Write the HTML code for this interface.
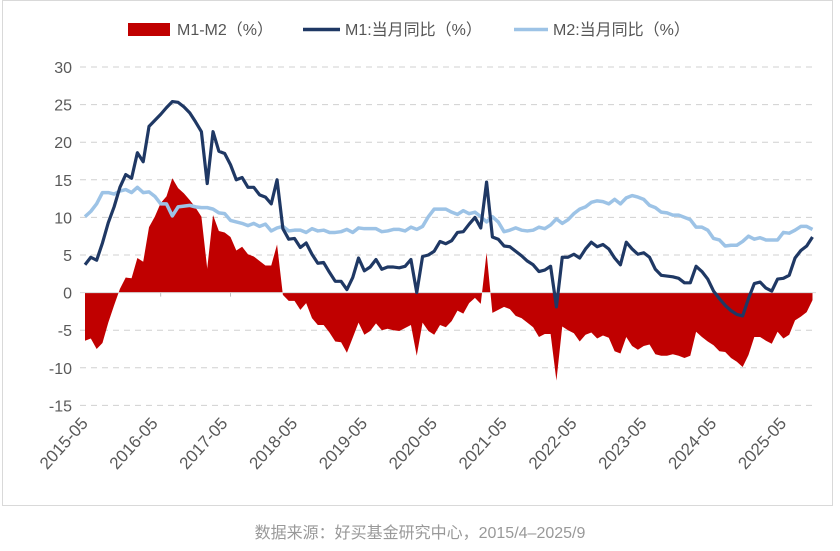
<!DOCTYPE html>
<html><head><meta charset="utf-8">
<style>
html,body{margin:0;padding:0;background:#fff;}
body{width:840px;height:546px;overflow:hidden;font-family:"Liberation Sans","Noto Sans CJK SC",sans-serif;}
</style></head>
<body>
<svg id="chart" width="840" height="546" viewBox="0 0 840 546" xmlns="http://www.w3.org/2000/svg" font-family="Liberation Sans, Noto Sans CJK SC, sans-serif">
  <rect x="2.5" y="0.5" width="830" height="505" fill="#fff" stroke="#d9d9d9"/>
  <g id="grid"></g>
  <g id="yaxis"></g>
  <g id="xaxis"></g>
  <g id="series"></g>
  <g font-size="16" fill="#555">
    <rect x="128" y="23" width="42" height="13" fill="#C00000"/>
    <text x="177" y="35">M1-M2（%）</text>
    <line x1="303" y1="29.5" x2="340" y2="29.5" stroke="#1F3864" stroke-width="3.5"/>
    <text x="345" y="35">M1:当月同比（%）</text>
    <line x1="514" y1="29.5" x2="548" y2="29.5" stroke="#9DC3E6" stroke-width="3.5"/>
    <text x="553" y="35">M2:当月同比（%）</text>
  </g>
  <text x="420" y="538" text-anchor="middle" font-size="16" fill="#999">数据来源：好买基金研究中心，2015/4–2025/9</text>
</svg>
<script>
// monthly data 2015-04 .. 2025-09
const startYear = 2015, startMonth = 4;
const m1 = [
 3.7,4.7,4.3,6.6,9.3,11.4,14.0,15.7,15.2,
 18.6,17.4,22.1,22.9,23.7,24.6,25.4,25.3,24.7,23.9,22.7,21.4,
 14.5,21.4,18.8,18.5,17.0,15.0,15.3,14.0,14.0,13.0,12.7,11.8,
 15.0,8.5,7.1,7.2,6.0,6.6,5.1,3.9,4.0,2.7,1.5,1.5,
 0.4,2.0,4.6,2.9,3.4,4.4,3.1,3.4,3.4,3.3,3.5,4.4,
 0.0,4.8,5.0,5.5,6.8,6.5,6.9,8.0,8.1,9.1,10.0,8.6,
 14.7,7.4,7.1,6.2,6.1,5.5,4.9,4.2,3.7,2.8,3.0,3.5,
 -1.9,4.7,4.7,5.1,4.6,5.8,6.7,6.1,6.4,5.8,4.6,3.7,
 6.7,5.8,5.1,5.3,4.7,3.1,2.3,2.2,2.1,1.9,1.3,1.3,
 3.5,2.8,1.8,0.2,-0.8,-1.7,-2.4,-2.9,-3.1,-0.8,1.2,1.4,
 0.6,0.2,1.8,1.9,2.3,4.6,5.6,6.2,7.4
];
const m2 = [
 10.1,10.8,11.8,13.3,13.3,13.1,13.5,13.7,13.3,
 14.0,13.3,13.4,12.8,11.8,11.8,10.2,11.4,11.5,11.6,11.4,11.3,
 11.3,11.1,10.6,10.5,9.6,9.4,9.2,8.9,9.2,8.8,9.1,8.2,
 8.6,8.8,8.2,8.3,8.3,8.0,8.5,8.2,8.3,8.0,8.0,8.1,
 8.4,8.0,8.6,8.5,8.5,8.5,8.1,8.2,8.4,8.4,8.2,8.7,
 8.4,8.8,10.1,11.1,11.1,11.1,10.7,10.4,10.9,10.5,10.7,10.1,
 9.4,10.1,9.4,8.1,8.3,8.6,8.3,8.2,8.3,8.7,8.5,9.0,
 9.8,9.2,9.7,10.5,11.1,11.4,12.0,12.2,12.1,11.8,12.4,11.8,
 12.6,12.9,12.7,12.4,11.6,11.3,10.7,10.6,10.3,10.3,10.0,9.7,
 8.7,8.7,8.3,7.2,7.0,6.2,6.3,6.3,6.8,7.5,7.1,7.3,
 7.0,7.0,7.0,8.0,7.9,8.3,8.8,8.8,8.4
];
const yTicks = [30,25,20,15,10,5,0,-5,-10,-15];
const xTickLabels = ["2015-05","2016-05","2017-05","2018-05","2019-05","2020-05","2021-05","2022-05","2023-05","2024-05","2025-05"];

const NS = "http://www.w3.org/2000/svg";
const X0 = 85, X1 = 812.5, Y30 = 67, PX_PER_UNIT = 7.52;
const n = m1.length;
function xScale(i){ return X0 + i*(X1-X0)/(n-1); }
function yScale(v){ return Y30 + (30 - v)*PX_PER_UNIT; }
function monthIndex(label){ const [y,m]=label.split("-").map(Number); return (y-startYear)*12 + (m-startMonth); }
function mk(tag, attrs, parent){ const e=document.createElementNS(NS,tag); for(const k in attrs) e.setAttribute(k,attrs[k]); parent.appendChild(e); return e; }

const grid = document.getElementById("grid"), yax = document.getElementById("yaxis"), xax = document.getElementById("xaxis"), ser = document.getElementById("series");

yTicks.forEach(t=>{
  const y = yScale(t);
  if (t !== 0) {
    const g = mk("line",{x1:80,x2:816,y1:y,y2:y,stroke:"#d0d0d0","stroke-width":1,"stroke-dasharray":"6,5"},grid);
    
    
  }
  const tx = mk("text",{x:72,y:y+6,"text-anchor":"end","font-size":16,fill:"#595959"},yax);
  tx.textContent = t;
  
  
});

xTickLabels.forEach(l=>{
  const x = xScale(monthIndex(l));
  const tk = mk("line",{x1:x,x2:x,y1:yScale(0),y2:yScale(0)+4,stroke:"#bfbfbf"},xax);
  
  
  const ax = x - 2, ay = 424;
  const tx = mk("text",{x:ax,y:ay,"text-anchor":"end","font-size":17,fill:"#595959",transform:`rotate(-48 ${ax} ${ay})`},xax);
  tx.textContent = l;
  
  
});

// spread area
const y0 = yScale(0);
let d = `M${xScale(0)},${y0}`;
for (let i=0;i<n;i++) d += ` L${xScale(i).toFixed(2)},${yScale(m1[i]-m2[i]).toFixed(2)}`;
d += ` L${xScale(n-1)},${y0} Z`;
const area = mk("path",{d:d,fill:"#C00000"},ser);



const axisLine = mk("line",{x1:80,x2:816,y1:y0,y2:y0,stroke:"#d9d9d9","stroke-width":1},ser);



function linePath(arr){ return arr.map((v,i)=>(i?"L":"M")+xScale(i).toFixed(2)+","+yScale(v).toFixed(2)).join(" "); }
const l2 = mk("path",{d:linePath(m2),fill:"none",stroke:"#9DC3E6","stroke-width":3.5,"stroke-linejoin":"round"},ser);


const l1 = mk("path",{d:linePath(m1),fill:"none",stroke:"#1F3864","stroke-width":3.2,"stroke-linejoin":"round"},ser);


</script>
</body></html>
